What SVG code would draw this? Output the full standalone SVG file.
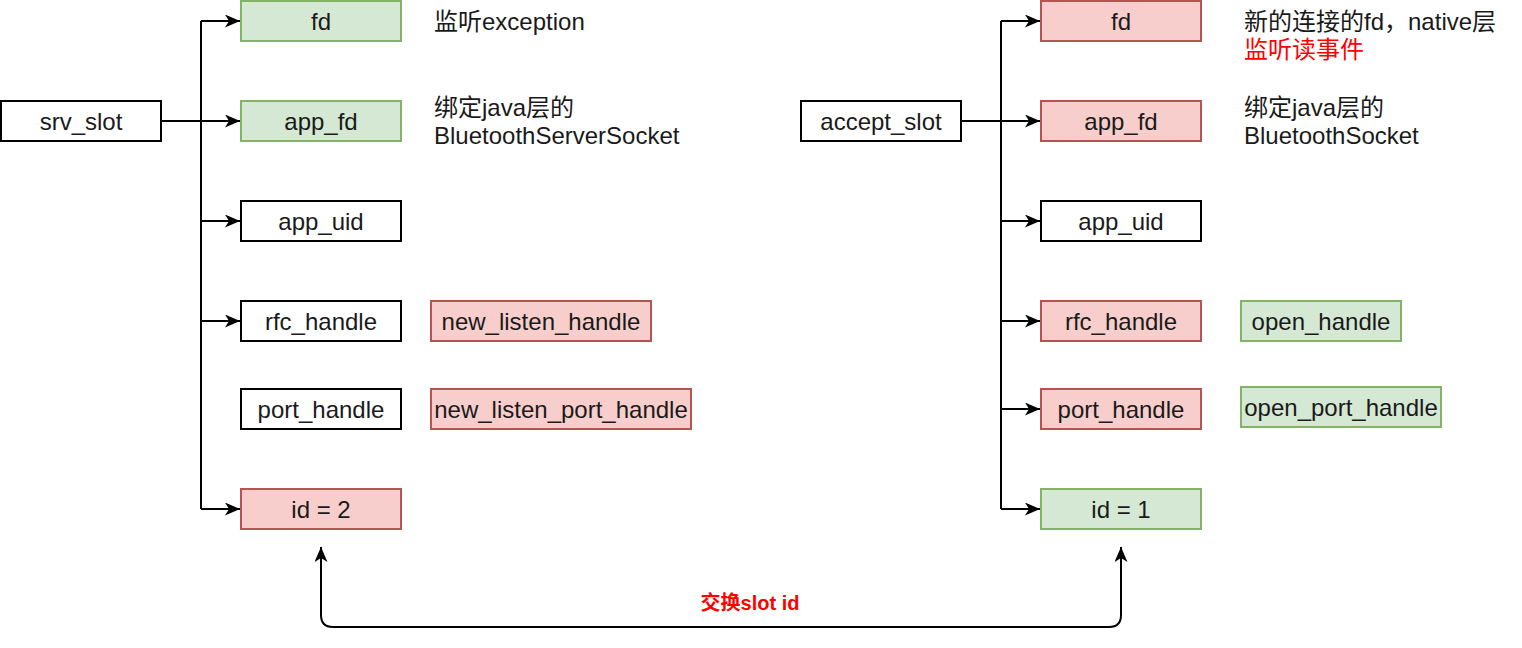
<svg xmlns="http://www.w3.org/2000/svg" width="1522" height="648" viewBox="0 0 1522 648">
<style>
.b{fill:#ffffff;stroke:#000000;stroke-width:2}
.g{fill:#d5e8d4;stroke:#82b366;stroke-width:2}
.r{fill:#f8cecc;stroke:#b85450;stroke-width:2}
text{font-family:"Liberation Sans",Arial,"Noto Sans CJK SC",sans-serif;font-size:24px;fill:#1a1a1a}
.c{text-anchor:middle}
.red{fill:#ff0000}
.lbl{font-weight:bold;font-size:20px;fill:#ff0000;text-anchor:middle}
.ln{fill:none;stroke:#000000;stroke-width:2}
</style>
<defs>
<marker id="arr" markerWidth="16" markerHeight="14" refX="15" refY="6.5" orient="auto-start-reverse" markerUnits="userSpaceOnUse">
<path d="M0,0 L15,6.5 L0,13 L4,6.5 Z" fill="#000000"/>
</marker>
</defs>
<g id="connectors">
<path class="ln" d="M161,121 H240" marker-end="url(#arr)"/>
<path class="ln" d="M201,21 V509"/>
<path class="ln" d="M201,21 H240" marker-end="url(#arr)"/>
<path class="ln" d="M201,221 H240" marker-end="url(#arr)"/>
<path class="ln" d="M201,321 H240" marker-end="url(#arr)"/>
<path class="ln" d="M201,509 H240" marker-end="url(#arr)"/>
<path class="ln" d="M961,121 H1040" marker-end="url(#arr)"/>
<path class="ln" d="M1001,21 V509"/>
<path class="ln" d="M1001,21 H1040" marker-end="url(#arr)"/>
<path class="ln" d="M1001,221 H1040" marker-end="url(#arr)"/>
<path class="ln" d="M1001,321 H1040" marker-end="url(#arr)"/>
<path class="ln" d="M1001,409 H1040" marker-end="url(#arr)"/>
<path class="ln" d="M1001,509 H1040" marker-end="url(#arr)"/>
<path class="ln" d="M321,547 V615 Q321,627 333,627 H1109 Q1121,627 1121,615 V547" marker-start="url(#arr)" marker-end="url(#arr)"/>
<text class="lbl" x="750" y="610">交换slot id</text>
</g>
<g id="srv_slot"><rect class="b" x="1" y="101" width="160" height="40"/><text class="c" x="81" y="130">srv_slot</text></g>
<g id="l_fd"><rect class="g" x="241" y="1" width="160" height="40"/><text class="c" x="321" y="30">fd</text></g>
<g id="l_app_fd"><rect class="g" x="241" y="101" width="160" height="40"/><text class="c" x="321" y="130">app_fd</text></g>
<g id="l_app_uid"><rect class="b" x="241" y="201" width="160" height="40"/><text class="c" x="321" y="230">app_uid</text></g>
<g id="l_rfc"><rect class="b" x="241" y="301" width="160" height="40"/><text class="c" x="321" y="330">rfc_handle</text></g>
<g id="l_port"><rect class="b" x="241" y="389" width="160" height="40"/><text class="c" x="321" y="418">port_handle</text></g>
<g id="l_id"><rect class="r" x="241" y="489" width="160" height="40"/><text class="c" x="321" y="518">id = 2</text></g>
<g id="new_listen_handle"><rect class="r" x="431" y="301" width="220" height="40"/><text class="c" x="541" y="330">new_listen_handle</text></g>
<g id="new_listen_port_handle"><rect class="r" x="431" y="389" width="260" height="40"/><text class="c" x="561" y="418">new_listen_port_handle</text></g>
<g id="note_l1"><text x="434" y="30">监听exception</text></g>
<g id="note_l2"><text x="434" y="116">绑定java层的</text><text x="434" y="144">BluetoothServerSocket</text></g>
<g id="accept_slot"><rect class="b" x="801" y="101" width="160" height="40"/><text class="c" x="881" y="130">accept_slot</text></g>
<g id="r_fd"><rect class="r" x="1041" y="1" width="160" height="40"/><text class="c" x="1121" y="30">fd</text></g>
<g id="r_app_fd"><rect class="r" x="1041" y="101" width="160" height="40"/><text class="c" x="1121" y="130">app_fd</text></g>
<g id="r_app_uid"><rect class="b" x="1041" y="201" width="160" height="40"/><text class="c" x="1121" y="230">app_uid</text></g>
<g id="r_rfc"><rect class="r" x="1041" y="301" width="160" height="40"/><text class="c" x="1121" y="330">rfc_handle</text></g>
<g id="r_port"><rect class="r" x="1041" y="389" width="160" height="40"/><text class="c" x="1121" y="418">port_handle</text></g>
<g id="r_id"><rect class="g" x="1041" y="489" width="160" height="40"/><text class="c" x="1121" y="518">id = 1</text></g>
<g id="open_handle"><rect class="g" x="1241" y="301" width="160" height="40"/><text class="c" x="1321" y="330">open_handle</text></g>
<g id="open_port_handle"><rect class="g" x="1241" y="387" width="200" height="40"/><text class="c" x="1341" y="416">open_port_handle</text></g>
<g id="note_r1"><text x="1244" y="30">新的连接的fd，native层</text><text class="red" x="1244" y="58">监听读事件</text></g>
<g id="note_r2"><text x="1244" y="116">绑定java层的</text><text x="1244" y="144">BluetoothSocket</text></g>
</svg>
